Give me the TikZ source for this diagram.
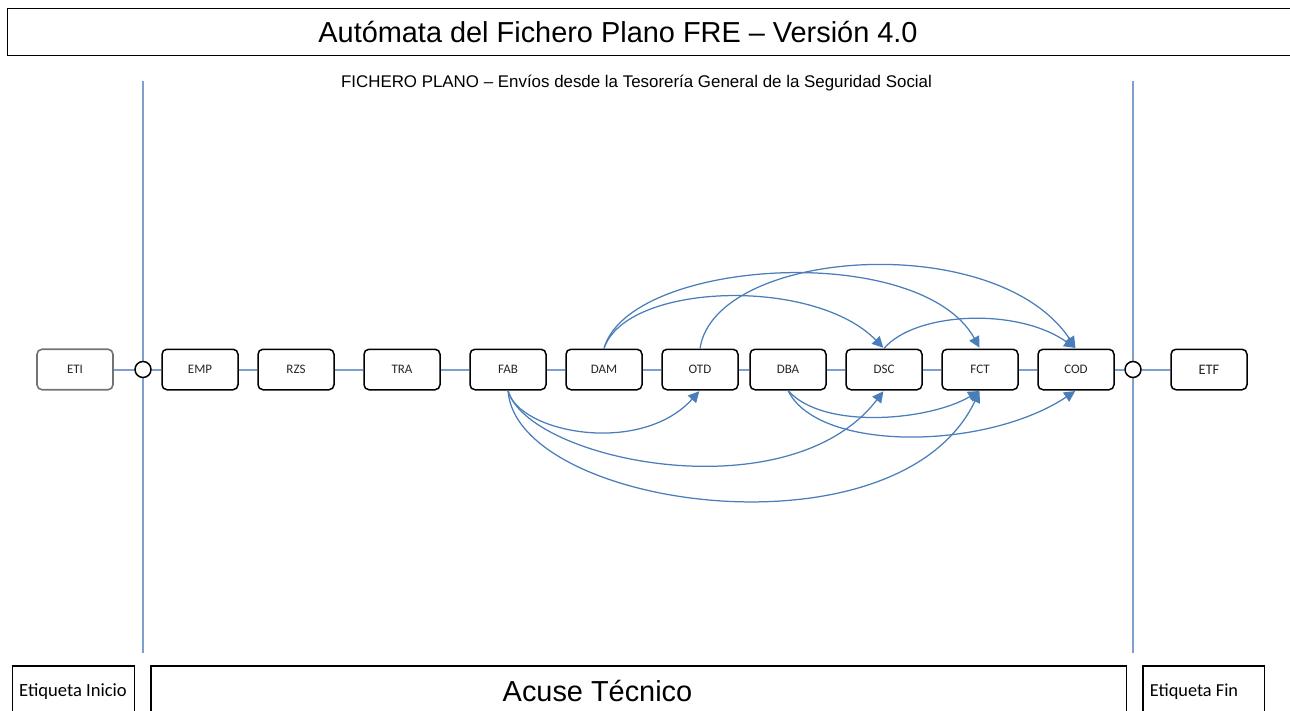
\documentclass[tikz,border=0pt]{standalone}
\usepackage{fontspec}
\setmainfont{Carlito}
\newfontfamily\arialf{Liberation Sans}
\usetikzlibrary{arrows.meta}
\definecolor{flow}{HTML}{4A7EBB}
\definecolor{barc}{HTML}{7F9FCE}
\tikzset{
  x=1pt,y=-1pt,
  statebox/.style={draw=black,line width=1.5pt,rounded corners=5pt,minimum width=76pt,minimum height=40.5pt,inner sep=0pt,font=\fontsize{13}{15}\selectfont,text=black!85},
  framebox/.style={draw=black,line width=1.5pt,inner sep=0pt,anchor=north west},
  chainlink/.style={draw=barc,line width=2pt},
  barline/.style={draw=barc,line width=1.5pt},
  jump/.style={draw=flow,line width=1.25pt,-{Triangle[length=11pt,width=11pt]},shorten >=1pt},
  junction/.style={circle,draw=black,fill=white,line width=1.5pt,minimum size=16pt,inner sep=0pt},
}
\begin{document}
\begin{tikzpicture}
\useasboundingbox (0,0) rectangle (1290,711);
% frames
\node[framebox,minimum width=1290pt,minimum height=47pt] (title) at (6.5,8) {};
\node[font=\arialf\fontsize{28.9}{33}\selectfont] (titletext) at (618,32) {Autómata del Fichero Plano FRE – Versión 4.0};
\node[font=\arialf\fontsize{16.9}{19}\selectfont] (subtitle) at (636.5,83) {FICHERO PLANO – Envíos desde la Tesorería General de la Seguridad Social};
\node[framebox,minimum width=122pt,minimum height=50pt] (inicio) at (11.5,665) {};
\node[font=\fontsize{18.6}{22}\selectfont] (iniciotext) at (73,692) {Etiqueta Inicio};
\node[framebox,minimum width=975.5pt,minimum height=50pt] (acuse) at (150,665) {};
\node[font=\arialf\fontsize{28.9}{33}\selectfont] (acusetext) at (597.5,691) {Acuse Técnico};
\node[framebox,minimum width=121.5pt,minimum height=50pt] (fin) at (1142,665) {};
\node[font=\fontsize{18.3}{22}\selectfont] (fintext) at (1194,692) {Etiqueta Fin};
% bars
\coordinate (b1t) at (143,81); \coordinate (b1b) at (143,653);
\coordinate (b2t) at (1133,81); \coordinate (b2b) at (1133,653);
\draw[barline] (b1t) -- (b1b);
\draw[barline] (b2t) -- (b2b);
% states
\node[statebox,draw=black!55,line width=1.6pt] (ETI) at (75,369.5) {ETI};
\node[statebox] (EMP) at (200,369.5) {EMP};
\node[statebox] (RZS) at (296,369.5) {RZS};
\node[statebox] (TRA) at (402,369.5) {TRA};
\node[statebox] (FAB) at (508,369.5) {FAB};
\node[statebox] (DAM) at (604,369.5) {DAM};
\node[statebox] (OTD) at (700,369.5) {OTD};
\node[statebox] (DBA) at (788,369.5) {DBA};
\node[statebox] (DSC) at (884,369.5) {DSC};
\node[statebox] (FCT) at (980,369.5) {FCT};
\node[statebox] (COD) at (1076,369.5) {COD};
\node[statebox,font=\fontsize{14.5}{17}\selectfont] (ETF) at (1209,369.5) {ETF};
\node[junction] (J1) at (143,369.5) {};
\node[junction] (J2) at (1133,369.5) {};
% links
\draw[chainlink] (ETI.east) -- (J1.west);
\draw[chainlink] (J1.east) -- (EMP.west);
\draw[chainlink] (EMP.east) -- (RZS.west);
\draw[chainlink] (RZS.east) -- (TRA.west);
\draw[chainlink] (TRA.east) -- (FAB.west);
\draw[chainlink] (FAB.east) -- (DAM.west);
\draw[chainlink] (DAM.east) -- (OTD.west);
\draw[chainlink] (OTD.east) -- (DBA.west);
\draw[chainlink] (DBA.east) -- (DSC.west);
\draw[chainlink] (DSC.east) -- (FCT.west);
\draw[chainlink] (FCT.east) -- (COD.west);
\draw[chainlink] (COD.east) -- (J2.west);
\draw[chainlink] (J2.east) -- (ETF.west);
% jumps below
\draw[jump] (FAB.south) .. controls +(10,42) and +(-60,66) .. (OTD.south);
\draw[jump] (FAB.south) .. controls +(20,70) and +(-95,124) .. (DSC.south);
\draw[jump] (FAB.south) .. controls +(8,118) and +(-82,172) .. (FCT.south);
\draw[jump] (DBA.south) .. controls +(35,40) and +(-50,30) .. (FCT.south);
\draw[jump] (DBA.south) .. controls +(30,62) and +(-90,60) .. (COD.south);
% jumps above
\draw[jump] (DAM.north) .. controls +(22,-66) and +(-70,-72) .. (DSC.north);
\draw[jump] (DAM.north) .. controls +(25,-90) and +(-60,-108) .. (FCT.north);
\draw[jump] (OTD.north) .. controls +(15,-100) and +(-80,-120) .. (COD.north);
\draw[jump] (DSC.north) .. controls +(30,-36) and +(-60,-42) .. (COD.north);
\end{tikzpicture}
\end{document}
